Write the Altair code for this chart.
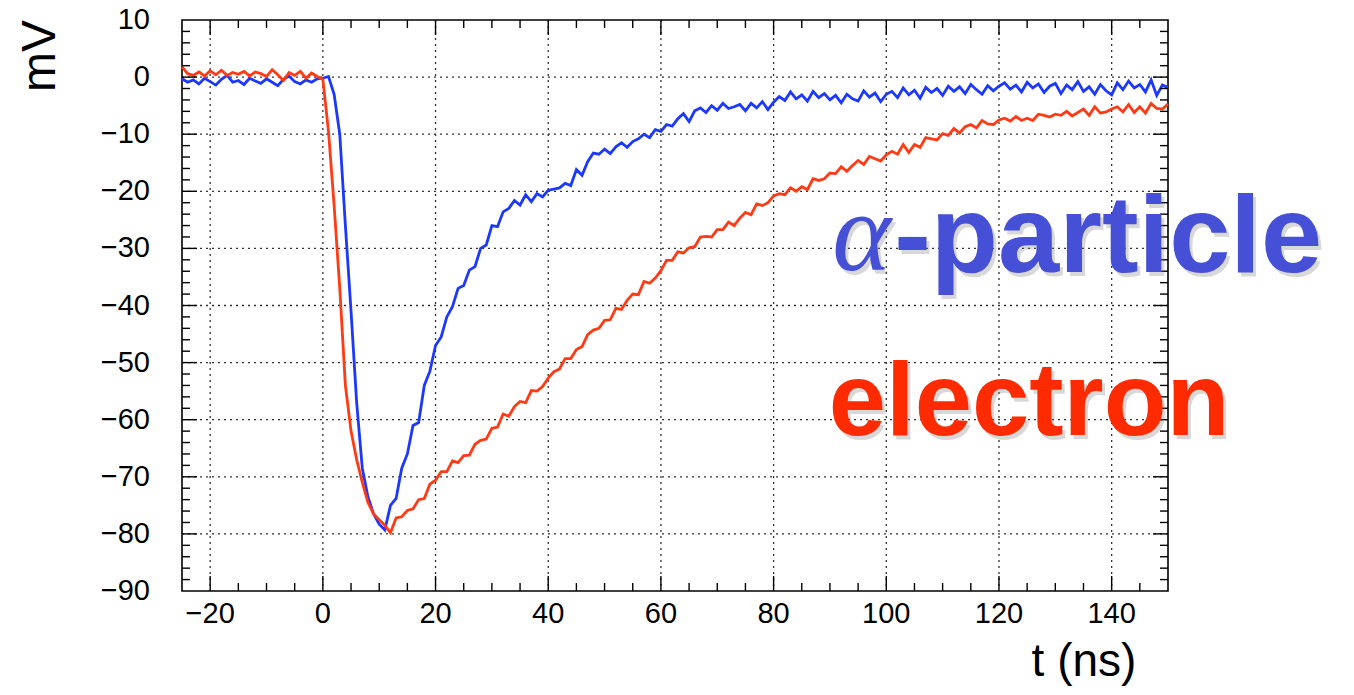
import altair as alt
import pandas as pd

# ---------------- data ----------------
t_ns = list(range(-25, 151))

alpha_mv = [
    -0.3, -0.9, -0.5, -1.2, -0.2, -0.8, -1.4, -0.4, 0.3, -0.9, -0.6, -1.3, -0.2,
    -0.7, -1.1, -0.3, -0.9, -1.5, -0.4, 0.2, -0.8, -1.2, -0.5, -0.9, -0.3, -0.2,
    0.1, -3.0, -10.0, -26.0, -41.0, -57.0, -68.5, -73.5, -76.5, -78.3,
    -79.3, -75.0, -73.8, -68.5, -66.0, -61.0, -60.5, -54.0, -51.5, -47.0,
    -45.5, -42.0, -40.2, -37.0, -36.5, -33.8, -33.2, -30.0, -29.4, -26.0,
    -26.2, -23.6, -23.0, -21.6, -22.4, -20.6, -21.8, -20.4, -21.0, -19.8,
    -19.6, -19.4, -18.6, -19.0, -16.2, -17.2, -14.8, -13.3, -13.5, -12.6,
    -13.4, -12.2, -11.5, -12.3, -11.3, -10.8, -10.0, -10.6, -9.2, -9.5,
    -8.3, -8.6, -7.3, -6.4, -7.8, -5.9, -5.4, -6.2, -5.0, -5.8,
    -4.6, -5.5, -5.2, -4.8, -5.9, -4.6, -5.4, -4.3, -5.7, -4.4,
    -3.4, -4.1, -2.6, -3.8, -3.1, -4.2, -2.5, -3.6, -2.9, -4.0,
    -3.2, -4.5, -3.0, -3.8, -4.2, -2.4, -3.5, -2.8, -4.3, -3.0,
    -2.5, -3.6, -1.9, -3.1, -2.3, -3.7, -1.8, -2.7, -2.0, -3.2,
    -1.6, -2.5, -1.7, -2.9, -1.3, -2.2, -3.0, -1.5, -2.4, -1.6,
    -1.0, -2.1, -1.4, -2.6, -0.9, -1.9, -1.2, -2.7, -1.6, -1.1,
    -2.9, -1.4, -2.2, -0.8, -2.5, -1.7, -3.0, -1.3, -2.4, -3.1,
    -1.0, -2.2, -0.7, -1.9, -1.3, -2.6, -0.5, -3.2, -1.4, -1.8,
]

electron_mv = [
    1.8, 0.6, 0.3, 0.9, 0.2, 1.1, 0.4, 1.2, 0.3, 0.8, 0.5, 1.0, 0.2,
    0.9, 0.6, 0.1, 1.3, 0.4, -0.6, 0.8, 0.3, 1.0, -0.2, 0.7, 0.1, -0.4,
    -9.5, -22.5, -37.0, -54.0, -62.0, -67.0, -71.0, -74.5, -76.5, -77.5,
    -78.5, -79.8, -77.2, -77.0, -75.9, -75.6, -74.0, -73.8, -71.3, -70.6,
    -69.1, -69.1, -67.2, -67.5, -66.3, -66.2, -64.3, -63.6, -63.4, -61.5,
    -61.3, -59.0, -59.4, -57.7, -56.8, -57.0, -54.9, -55.0, -54.2, -52.7,
    -51.6, -51.1, -49.3, -49.3, -47.7, -47.2, -45.1, -44.3, -44.0, -42.6,
    -42.5, -40.5, -40.7, -39.1, -38.0, -38.1, -35.8, -36.1, -35.2, -33.9,
    -32.1, -32.1, -30.6, -30.8, -29.9, -29.7, -28.0, -27.9, -28.0, -26.7,
    -26.7, -25.4, -26.0, -24.7, -23.7, -24.1, -22.2, -22.5, -22.0, -20.8,
    -20.4, -20.6, -19.4, -20.0, -19.2, -19.7, -17.8, -18.1, -17.8, -16.8,
    -16.9, -15.7, -16.5, -15.5, -14.6, -15.3, -13.9, -14.3, -14.7, -13.6,
    -13.0, -13.5, -11.8, -13.2, -11.8, -12.3, -10.6, -10.8, -11.0, -9.9,
    -10.2, -9.0, -9.8, -8.7, -8.3, -8.9, -7.6, -8.2, -8.3, -7.5,
    -7.2, -7.7, -6.9, -7.6, -7.2, -7.6, -6.5, -6.7, -7.0, -6.5,
    -6.7, -6.0, -6.8, -6.2, -5.6, -6.7, -5.2, -6.3, -6.1, -5.6,
    -5.2, -6.1, -4.8, -6.2, -5.2, -6.3, -4.6, -5.5, -5.6, -4.7,
]

x_major = [-20, 0, 20, 40, 60, 80, 100, 120, 140]
x_tick_labels = ["\u221220", "0", "20", "40", "60", "80", "100", "120", "140"]
x_minor = [-15, -10, -5, 5, 10, 15, 25, 30, 35, 45, 50, 55, 65, 70, 75,
           85, 90, 95, 105, 110, 115, 125, 130, 135, 145]
y_label_values = [-90, -80, -70, -60, -50, -40, -30, -20, -10, 0, 10]
y_tick_labels = ["\u221290", "\u221280", "\u221270", "\u221260", "\u221250", "\u221240",
                 "\u221230", "\u221220", "\u221210", "0", "10"]
y_major = [-80, -70, -60, -50, -40, -30, -20, -10, 0]
y_minor = [-88, -86, -84, -82, -78, -76, -74, -72, -68, -66, -64, -62,
           -58, -56, -54, -52, -48, -46, -44, -42, -38, -36, -34, -32,
           -28, -26, -24, -22, -18, -16, -14, -12, -8, -6, -4, -2,
           2, 4, 6, 8]

# ---------------- chart ----------------
W, H = 986, 571
BLUE = "#1c38ff"
RED = "#ff3a14"
FONT = "Liberation Sans"

xscale = alt.Scale(domain=[-25, 150], nice=False, zero=False)
yscale = alt.Scale(domain=[-90, 10], nice=False, zero=False)


def X(field):
    return alt.X(field, scale=xscale, axis=None)


def Y(field):
    return alt.Y(field, scale=yscale, axis=None)


df = pd.DataFrame({"t": t_ns, "alpha": alpha_mv, "electron": electron_mv})

# grid (dotted) at the major ticks
grid_x = alt.Chart(pd.DataFrame({"t": x_major})).mark_rule(
    color="#333", strokeWidth=1.3, strokeDash=[2, 4]).encode(
    x=X("t:Q"), y=alt.value(0), y2=alt.value(H))
grid_y = alt.Chart(pd.DataFrame({"v": y_major})).mark_rule(
    color="#333", strokeWidth=1.3, strokeDash=[2, 4]).encode(
    y=Y("v:Q"), x=alt.value(0), x2=alt.value(W))

blue_line = alt.Chart(df).mark_line(strokeWidth=2.8, color=BLUE).encode(
    x=X("t:Q"), y=Y("alpha:Q"))
red_line = alt.Chart(df).mark_line(strokeWidth=2.8, color=RED).encode(
    x=X("t:Q"), y=Y("electron:Q"))


def xticks(values, y0, y1):
    return alt.Chart(pd.DataFrame({"t": values})).mark_rule(color="black", strokeWidth=1.4).encode(
        x=X("t:Q"), y=alt.value(y0), y2=alt.value(y1))


def yticks(values, x0, x1):
    return alt.Chart(pd.DataFrame({"v": values})).mark_rule(color="black", strokeWidth=1.4).encode(
        y=Y("v:Q"), x=alt.value(x0), x2=alt.value(x1))


ticks = [
    xticks(x_major, H, H - 15), xticks(x_minor, H, H - 8),
    xticks(x_major, 0, 15), xticks(x_minor, 0, 8),
    yticks(y_major, 0, 15), yticks(y_minor, 0, 8),
    yticks(y_major, W, W - 15), yticks(y_minor, W, W - 8),
]

# tick labels
x_labels = alt.Chart(pd.DataFrame({"t": x_major, "lab": x_tick_labels})).mark_text(
    font=FONT, fontSize=29, color="black", align="center", baseline="alphabetic").encode(
    x=X("t:Q"), y=alt.value(H + 32), text="lab:N")
y_labels = alt.Chart(pd.DataFrame({"v": y_label_values, "lab": y_tick_labels})).mark_text(
    font=FONT, fontSize=29, color="black", align="right", baseline="middle").encode(
    y=Y("v:Q"), x=alt.value(-32), text="lab:N")

# axis titles
y_title = alt.Chart(pd.DataFrame({"lab": ["mV"]})).mark_text(
    font=FONT, fontSize=48, color="black", align="center", baseline="alphabetic",
    angle=270).encode(x=alt.value(-127), y=alt.value(36), text="lab:N")
x_title = alt.Chart(pd.DataFrame({"lab": ["t (ns)"]})).mark_text(
    font=FONT, fontSize=46, color="black", align="center", baseline="alphabetic").encode(
    x=alt.value(902), y=alt.value(656), text="lab:N")


def label(text, x, y, color, font, size, style="normal", weight="bold"):
    d = pd.DataFrame({"label": [text]})
    common = dict(font=font, fontSize=size, fontStyle=style, fontWeight=weight,
                  align="left", baseline="alphabetic")
    shadow = alt.Chart(d).mark_text(color="#777", opacity=0.28, dx=3, dy=4, **common).encode(
        x=alt.X(datum=x, scale=xscale, axis=None), y=alt.Y(datum=y, scale=yscale, axis=None),
        text="label:N")
    main = alt.Chart(d).mark_text(color=color, **common).encode(
        x=alt.X(datum=x, scale=xscale, axis=None), y=alt.Y(datum=y, scale=yscale, axis=None),
        text="label:N")
    return [shadow, main]


texts = (
    label("α", 90.4, -33.7, "#4550d6", "Liberation Serif", 112, style="italic", weight="normal")
    + label("-particle", 101.4, -34.2, "#4550d6", "Liberation Sans", 110)
    + label("electron", 89.8, -62.6, "#ff2b00", "Liberation Sans", 103)
)

chart = alt.layer(
    grid_x, grid_y, blue_line, red_line, *ticks, x_labels, y_labels, y_title, x_title, *texts
).properties(
    width=W, height=H,
    padding={"left": 174, "top": 12, "right": 170, "bottom": 95},
    autosize=alt.AutoSizeParams(type="none"),
).configure_view(stroke="black", strokeWidth=1.6)

chart.save("out.html", embed_options={"renderer": "svg", "actions": False})
